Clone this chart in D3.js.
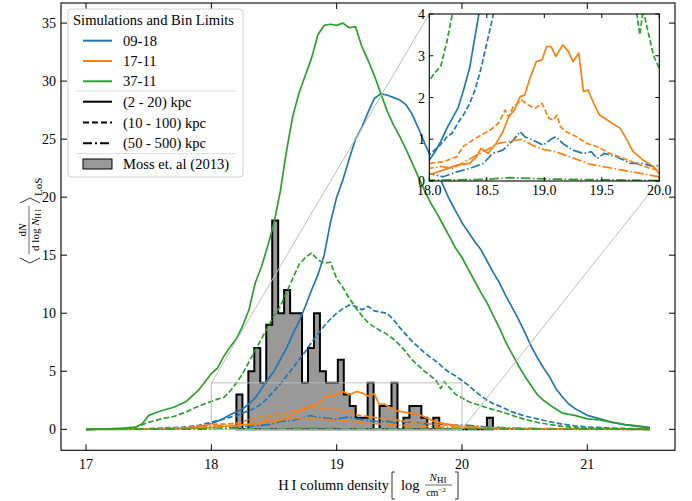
<!DOCTYPE html>
<html>
<head>
<meta charset="utf-8">
<script src="https://cdn.jsdelivr.net/npm/d3@7"></script>
<style>
    body { margin: 0; background: #fff; }
    svg { display: block; font-family: "Liberation Serif", "DejaVu Serif", serif; }
</style>
</head>
<body>
<svg id="chart" width="692" height="501"></svg>
<script>

// ---- data ---------------------------------------------------------------
const simNames = ["09-18", "17-11", "37-11"];
const simColors = ["#1f77b4", "#ff7f0e", "#2ca02c"];
const binNames = ["(2 - 20) kpc", "(10 - 100) kpc", "(50 - 500) kpc"];

// 09-18
const sim0918_2_20 = [[17.0,0],[17.5,0.02],[17.8,0.1],[17.9,0.2],[18.0,0.5],[18.05,0.7],[18.1,0.95],[18.15,1.25],[18.2,1.5],[18.25,1.75],[18.3,2.2],[18.35,2.7],[18.4,3.5],[18.45,4.3],[18.5,5.0],[18.55,6.0],[18.6,7.0],[18.65,8.2],[18.7,9.3],[18.75,10.6],[18.8,12.0],[18.85,13.3],[18.9,15.0],[18.95,17.8],[19.0,20.0],[19.05,21.5],[19.1,23.3],[19.15,25.0],[19.2,26.0],[19.25,27.3],[19.3,28.5],[19.35,28.9],[19.4,28.8],[19.45,28.6],[19.5,28.4],[19.55,28.0],[19.6,27.2],[19.65,26.0],[19.7,24.7],[19.75,23.5],[19.8,22.3],[19.85,21.0],[19.9,19.8],[19.95,18.8],[20.0,17.8],[20.05,17.0],[20.1,16.2],[20.15,15.5],[20.2,14.5],[20.25,13.5],[20.3,12.6],[20.35,11.5],[20.4,10.5],[20.45,9.5],[20.5,8.4],[20.55,7.2],[20.6,6.2],[20.65,5.3],[20.7,4.5],[20.75,3.5],[20.8,2.8],[20.85,2.2],[20.9,1.8],[21.0,1.2],[21.1,0.9],[21.2,0.6],[21.3,0.4],[21.4,0.25],[21.5,0.15]];
const sim0918_10_100 = [[17.0,0],[17.5,0.05],[17.8,0.2],[17.9,0.35],[18.0,0.62],[18.05,0.75],[18.1,0.88],[18.15,1.05],[18.2,1.15],[18.25,1.4],[18.3,1.6],[18.35,1.85],[18.4,2.2],[18.45,2.7],[18.5,3.3],[18.55,3.9],[18.6,4.6],[18.65,5.3],[18.7,6.0],[18.75,6.7],[18.8,7.5],[18.85,8.2],[18.9,8.9],[18.95,9.5],[19.0,10.0],[19.05,10.4],[19.1,10.7],[19.15,10.6],[19.2,10.3],[19.25,10.6],[19.3,10.2],[19.35,10.1],[19.4,10.0],[19.45,9.5],[19.5,8.8],[19.55,8.2],[19.6,7.6],[19.65,7.1],[19.7,6.6],[19.75,6.2],[19.8,5.8],[19.85,5.3],[19.9,4.9],[19.95,4.6],[20.0,4.2],[20.05,3.8],[20.1,3.3],[20.15,2.9],[20.2,2.5],[20.25,2.2],[20.3,2.0],[20.35,1.75],[20.4,1.5],[20.5,1.15],[20.6,0.9],[20.7,0.65],[20.8,0.45],[20.9,0.3],[21.0,0.2],[21.2,0.1],[21.5,0.02]];
const sim0918_50_500 = [[17.0,0],[17.8,0.05],[18.0,0.18],[18.12,0.1],[18.24,0.22],[18.35,0.3],[18.47,0.42],[18.55,0.66],[18.64,0.74],[18.73,0.98],[18.79,1.18],[18.83,1.06],[18.9,0.98],[18.99,0.86],[19.05,0.98],[19.1,1.06],[19.16,0.9],[19.25,0.74],[19.34,0.66],[19.41,0.7],[19.46,0.54],[19.52,0.66],[19.63,0.58],[19.75,0.42],[19.86,0.42],[19.95,0.34],[20.0,0.38],[20.1,0.3],[20.2,0.2],[20.4,0.1],[20.8,0.04],[21.5,0]];

// 17-11
const sim1711_2_20 = [[17.0,0],[17.5,0.02],[17.8,0.05],[17.9,0.1],[18.0,0.15],[18.12,0.26],[18.24,0.38],[18.35,0.42],[18.41,0.58],[18.45,0.78],[18.51,0.66],[18.58,0.9],[18.64,1.18],[18.69,1.54],[18.74,1.7],[18.79,2.02],[18.83,2.06],[18.87,2.42],[18.93,2.86],[18.98,2.9],[19.02,3.22],[19.06,3.22],[19.1,2.98],[19.16,3.26],[19.21,3.1],[19.25,2.86],[19.3,3.06],[19.34,2.14],[19.38,2.18],[19.43,1.86],[19.48,1.58],[19.57,1.42],[19.66,1.26],[19.72,0.98],[19.77,0.71],[19.86,0.5],[19.95,0.34],[20.0,0.18],[20.1,0.12],[20.2,0.08],[20.4,0.04],[20.8,0.02],[21.5,0]];
const sim1711_10_100 = [[17.0,0],[17.6,0.05],[17.8,0.15],[17.9,0.3],[18.0,0.42],[18.12,0.46],[18.24,0.58],[18.29,0.82],[18.38,0.98],[18.45,1.1],[18.53,1.22],[18.6,1.38],[18.66,1.7],[18.69,1.54],[18.73,1.78],[18.8,1.94],[18.86,1.82],[18.92,1.74],[18.98,1.86],[19.04,1.5],[19.08,1.46],[19.11,1.58],[19.14,1.3],[19.19,1.18],[19.28,1.06],[19.37,0.9],[19.46,0.82],[19.57,0.66],[19.69,0.54],[19.8,0.42],[19.92,0.3],[20.0,0.26],[20.1,0.2],[20.2,0.15],[20.3,0.1],[20.5,0.06],[21.0,0.02],[21.5,0]];
const sim1711_50_500 = [[17.0,0],[17.7,0.05],[17.9,0.2],[18.0,0.3],[18.1,0.35],[18.2,0.3],[18.3,0.45],[18.4,0.6],[18.5,0.75],[18.6,0.9],[18.7,0.95],[18.8,1.0],[18.9,0.85],[19.0,0.75],[19.1,0.7],[19.2,0.6],[19.3,0.5],[19.4,0.4],[19.5,0.35],[19.6,0.3],[19.7,0.25],[19.8,0.2],[19.9,0.15],[20.0,0.1],[20.3,0.05],[21.5,0]];

// 37-11
const sim3711_2_20 = [[17.0,0],[17.2,0.05],[17.3,0.1],[17.4,0.2],[17.45,0.5],[17.5,1.2],[17.55,1.4],[17.6,1.6],[17.7,1.9],[17.8,2.4],[17.9,3.4],[18.0,4.8],[18.05,5.3],[18.1,6.3],[18.15,7.1],[18.2,7.8],[18.25,8.9],[18.3,10.3],[18.35,12.6],[18.4,14.0],[18.45,15.8],[18.5,17.8],[18.55,20.5],[18.6,24.0],[18.65,27.0],[18.7,29.0],[18.75,30.5],[18.8,32.0],[18.85,34.0],[18.9,34.8],[18.95,34.9],[19.0,34.8],[19.05,35.0],[19.1,34.6],[19.15,34.7],[19.2,33.0],[19.25,31.8],[19.3,30.5],[19.35,29.0],[19.4,27.5],[19.45,26.3],[19.5,25.3],[19.55,24.2],[19.6,23.0],[19.65,21.8],[19.7,20.6],[19.75,19.5],[19.8,18.6],[19.85,17.6],[19.9,16.6],[19.95,15.6],[20.0,14.8],[20.05,13.8],[20.1,12.8],[20.15,11.8],[20.2,10.9],[20.25,9.8],[20.3,8.7],[20.35,7.5],[20.4,6.5],[20.45,5.5],[20.5,4.6],[20.55,3.8],[20.6,3.0],[20.65,2.5],[20.7,2.1],[20.8,1.4],[20.9,1.2],[21.0,0.9],[21.1,0.8],[21.2,0.6],[21.3,0.4],[21.4,0.3],[21.5,0.15]];
const sim3711_10_100 = [[17.0,0],[17.3,0.05],[17.4,0.2],[17.5,0.6],[17.6,0.9],[17.7,1.1],[17.8,1.5],[17.9,2.0],[18.0,2.4],[18.05,2.6],[18.1,2.75],[18.15,3.3],[18.2,4.0],[18.25,4.8],[18.3,5.8],[18.35,6.8],[18.4,7.8],[18.45,8.8],[18.5,9.8],[18.55,10.6],[18.6,11.8],[18.65,13.0],[18.7,14.2],[18.75,14.8],[18.8,15.2],[18.85,14.6],[18.9,14.3],[18.95,14.4],[19.0,13.0],[19.05,12.2],[19.1,11.3],[19.15,10.5],[19.2,9.8],[19.25,9.2],[19.3,8.8],[19.35,8.5],[19.4,8.2],[19.45,7.8],[19.5,7.3],[19.55,6.7],[19.6,6.0],[19.65,5.5],[19.7,5.0],[19.75,4.6],[19.8,4.1],[19.83,3.5],[19.86,4.1],[19.9,3.6],[19.95,3.0],[20.0,2.7],[20.05,2.4],[20.1,2.2],[20.2,1.85],[20.3,1.55],[20.4,1.2],[20.5,0.85],[20.6,0.6],[20.7,0.4],[20.8,0.25],[20.9,0.15],[21.0,0.1],[21.5,0]];
const sim3711_50_500 = [[17.0,0],[18.0,0.02],[18.5,0.04],[18.7,0.08],[19.0,0.05],[19.5,0.03],[20.0,0.01],[21.5,0]];

// Moss et al. (2013) histogram
const mossStart = 18.2;
const mossWidth = 0.0476;
const mossCounts = [3,0,5,7,4,9,18,10,12,10,10,4,7,10,5,4,4,6,3,2,1,1,4,0,2,2,4,0,1,2,2,1,0,1,0,0,0,0,0,0,0,0,1];

const mainXTicks = [17, 18, 19, 20, 21];
const mainYTicks = [0, 5, 10, 15, 20, 25, 30, 35];
const insetXTicks = [18.0, 18.5, 19.0, 19.5, 20.0];
const insetYTicks = [0, 1, 2, 3, 4];

// all lines: [data, sim index, bin index]
const series = [
    [sim0918_2_20, 0, 0], [sim0918_10_100, 0, 1], [sim0918_50_500, 0, 2],
    [sim1711_2_20, 1, 0], [sim1711_10_100, 1, 1], [sim1711_50_500, 1, 2],
    [sim3711_2_20, 2, 0], [sim3711_10_100, 2, 1], [sim3711_50_500, 2, 2]
];

// ---- drawing ---------------------------------------------------------------
const svg = d3.select("#chart");
const dashes = ["none", "5.5,2.4", "9.6,2.4,1.5,2.4"];

const main = {left: 61, right: 675, top: 3, bottom: 450.3};
const ins = {left: 429.3, right: 659.3, top: 14, bottom: 181};

const x = d3.scaleLinear().domain([16.8, 21.7]).range([main.left, main.right]);
const y = d3.scaleLinear().domain([-1.81, 36.73]).range([main.bottom, main.top]);
const xi = d3.scaleLinear().domain([18, 20]).range([ins.left, ins.right]);
const yi = d3.scaleLinear().domain([0, 4]).range([ins.bottom, ins.top]);

svg.append("rect").attr("width", 692).attr("height", 501).attr("fill", "#fff");

// histogram (step filled)
function histPath(sx, sy) {
    let p = "M" + sx(mossStart) + "," + sy(0);
    mossCounts.forEach((c, i) => {
        p += "V" + sy(c) + "H" + sx(mossStart + (i + 1) * mossWidth);
    });
    return p + "V" + sy(0) + "Z";
}

svg.append("path")
    .attr("d", histPath(x, y))
    .attr("fill", "#999999")
    .attr("stroke", "#000")
    .attr("stroke-width", 2)
    .attr("stroke-linejoin", "miter");

function drawLines(g, sx, sy, lw) {
    series.forEach(s => {
        g.append("path")
            .attr("d", d3.line().x(d => sx(d[0])).y(d => sy(d[1]))(s[0]))
            .attr("fill", "none")
            .attr("stroke", simColors[s[1]])
            .attr("stroke-width", lw)
            .attr("stroke-dasharray", dashes[s[2]])
            .attr("stroke-linejoin", "round");
    });
}

drawLines(svg.append("g"), x, y, 1.7);

// zoom indicator box + connectors
const grey = "#bdbdbd";
svg.append("rect")
    .attr("x", x(18)).attr("y", y(4))
    .attr("width", x(20) - x(18)).attr("height", y(0) - y(4))
    .attr("fill", "none").attr("stroke", grey).attr("stroke-width", 1);
svg.append("line")
    .attr("x1", x(18)).attr("y1", y(4)).attr("x2", ins.left).attr("y2", ins.top)
    .attr("stroke", grey).attr("stroke-width", 1);
svg.append("line")
    .attr("x1", x(20)).attr("y1", y(0)).attr("x2", ins.right).attr("y2", ins.bottom)
    .attr("stroke", grey).attr("stroke-width", 1);

// axes frame + inward ticks on all sides
function frame(g, b, sx, sy, xt, yt, tl) {
    xt.forEach(t => {
        g.append("line").attr("x1", sx(t)).attr("x2", sx(t)).attr("y1", b.bottom).attr("y2", b.bottom - tl).attr("stroke", "#000");
        g.append("line").attr("x1", sx(t)).attr("x2", sx(t)).attr("y1", b.top).attr("y2", b.top + tl).attr("stroke", "#000");
    });
    yt.forEach(t => {
        g.append("line").attr("y1", sy(t)).attr("y2", sy(t)).attr("x1", b.left).attr("x2", b.left + tl).attr("stroke", "#000");
        g.append("line").attr("y1", sy(t)).attr("y2", sy(t)).attr("x1", b.right).attr("x2", b.right - tl).attr("stroke", "#000");
    });
    g.append("rect")
        .attr("x", b.left).attr("y", b.top)
        .attr("width", b.right - b.left).attr("height", b.bottom - b.top)
        .attr("fill", "none").attr("stroke", "#000").attr("stroke-width", 1.1);
}

frame(svg.append("g"), main, x, y, mainXTicks, mainYTicks, 6);

svg.append("g").selectAll("text").data(mainXTicks).join("text")
    .attr("x", d => x(d)).attr("y", 469)
    .attr("text-anchor", "middle").attr("font-size", 14)
    .text(d => d);
svg.append("g").selectAll("text").data(mainYTicks).join("text")
    .attr("x", 56).attr("y", d => y(d) + 5)
    .attr("text-anchor", "end").attr("font-size", 14)
    .text(d => d);

// x label
const xl = svg.append("g").attr("font-size", 14.5);
xl.append("text").attr("x", 389).attr("y", 490).attr("text-anchor", "end").text("H\u2009I column density");
xl.append("path").attr("d", "M395,472H392V499H395").attr("fill", "none").attr("stroke", "#000").attr("stroke-width", 0.8);
xl.append("text").attr("x", 401).attr("y", 490).text("log");
xl.append("text").attr("x", 438).attr("y", 481).attr("text-anchor", "middle").attr("font-size", 11)
    .html('<tspan font-style="italic">N</tspan><tspan font-size="9" dy="2">HI</tspan>');
xl.append("line").attr("x1", 425).attr("x2", 452).attr("y1", 485).attr("y2", 485).attr("stroke", "#000").attr("stroke-width", 0.6);
xl.append("text").attr("x", 436).attr("y", 496).attr("text-anchor", "middle").attr("font-size", 10)
    .html('cm<tspan font-size="7" dy="-4">\u22122</tspan>');
xl.append("path").attr("d", "M455,472H458V499H455").attr("fill", "none").attr("stroke", "#000").attr("stroke-width", 0.8);

// y label (rotated)
const yl = svg.append("g").attr("transform", "translate(29,224) rotate(-90)");
yl.append("path").attr("d", "M-34,-9L-39,1L-34,11").attr("fill", "none").attr("stroke", "#000").attr("stroke-width", 0.8);
yl.append("text").attr("x", -6).attr("y", -3).attr("text-anchor", "middle").attr("font-size", 11)
    .html('d<tspan font-style="italic">N</tspan>');
yl.append("line").attr("x1", -30).attr("x2", 18).attr("y1", 0).attr("y2", 0).attr("stroke", "#000").attr("stroke-width", 0.6);
yl.append("text").attr("x", -6).attr("y", 10).attr("text-anchor", "middle").attr("font-size", 11)
    .html('d log <tspan font-style="italic">N</tspan><tspan font-size="7.5" dy="2">H\u2009I</tspan>');
yl.append("path").attr("d", "M21,-9L26,1L21,11").attr("fill", "none").attr("stroke", "#000").attr("stroke-width", 0.8);
yl.append("text").attr("x", 28).attr("y", 13).attr("font-size", 11).text("LoS");

// legend
const lg = svg.append("g").attr("font-size", 14.6);
lg.append("rect").attr("x", 68).attr("y", 9).attr("width", 175).attr("height", 168).attr("rx", 3)
    .attr("fill", "#fff").attr("fill-opacity", 0.8).attr("stroke", "#d0d0d0");
lg.append("text").attr("x", 73).attr("y", 25).text("Simulations and Bin Limits");
simNames.forEach((n, i) => {
    const cy = 40.7 + i * 20.3;
    lg.append("line").attr("x1", 83).attr("x2", 112).attr("y1", cy).attr("y2", cy).attr("stroke", simColors[i]).attr("stroke-width", 2);
    lg.append("text").attr("x", 123).attr("y", cy + 5).text(n);
});
lg.append("line").attr("x1", 76).attr("x2", 236).attr("y1", 91).attr("y2", 91).attr("stroke", "#ddd");
binNames.forEach((n, i) => {
    const cy = 101.7 + i * 20.8;
    lg.append("line").attr("x1", 83).attr("x2", 112).attr("y1", cy).attr("y2", cy).attr("stroke", "#000").attr("stroke-width", 2)
        .attr("stroke-dasharray", i === 0 ? "none" : (i === 1 ? "6,3" : "9,3,2,3"));
    lg.append("text").attr("x", 123).attr("y", cy + 5).text(n);
});
lg.append("line").attr("x1", 76).attr("x2", 236).attr("y1", 153.7).attr("y2", 153.7).attr("stroke", "#ddd");
lg.append("rect").attr("x", 83).attr("y", 159).attr("width", 29).attr("height", 10).attr("fill", "#999").attr("stroke", "#000").attr("stroke-width", 1);
lg.append("text").attr("x", 123).attr("y", 168.7).text("Moss et. al (2013)");

// inset
const ig = svg.append("g");
ig.append("rect").attr("x", ins.left).attr("y", ins.top).attr("width", ins.right - ins.left).attr("height", ins.bottom - ins.top).attr("fill", "#fff");
svg.append("clipPath").attr("id", "insclip").append("rect")
    .attr("x", ins.left).attr("y", ins.top).attr("width", ins.right - ins.left).attr("height", ins.bottom - ins.top);
drawLines(ig.append("g").attr("clip-path", "url(#insclip)"), xi, yi, 1.7);
frame(ig.append("g"), ins, xi, yi, insetXTicks, insetYTicks, 4);
ig.append("g").selectAll("text").data(insetXTicks).join("text")
    .attr("x", d => xi(d)).attr("y", 195)
    .attr("text-anchor", "middle").attr("font-size", 14)
    .text(d => d.toFixed(1));
ig.append("g").selectAll("text").data(insetYTicks).join("text")
    .attr("x", 425).attr("y", d => yi(d) + 5)
    .attr("text-anchor", "end").attr("font-size", 14)
    .text(d => d);

</script>
</body>
</html>
